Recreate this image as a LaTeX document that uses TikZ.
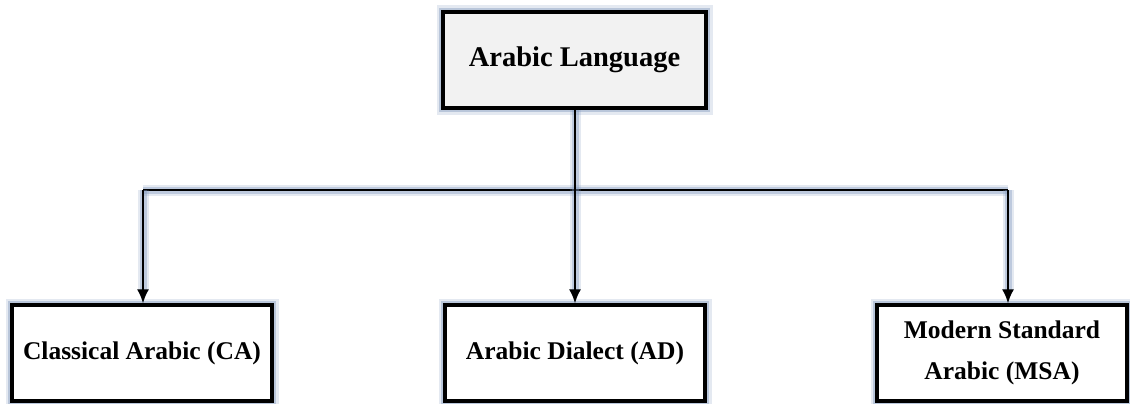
\documentclass[tikz,border=0pt]{standalone}
\usepackage{fontspec}
\setmainfont{Liberation Serif}
\usetikzlibrary{arrows.meta}
\definecolor{glowc}{RGB}{120,145,185}
\definecolor{topfill}{RGB}{242,242,242}
\tikzset{
  boxnode/.style={draw=black, line width=3.2pt, rectangle, inner sep=0pt,
    preaction={draw=glowc, line width=13pt, opacity=0.2},
    preaction={draw=glowc, line width=8pt, opacity=0.4},
    font=\bfseries\fontsize{25.5}{41}\selectfont, align=center},
  link/.style={line width=2.4pt, draw=black,
    preaction={draw=glowc, line width=11pt, opacity=0.2},
    preaction={draw=glowc, line width=7pt, opacity=0.35}},
  tip/.style={-{Latex[length=14pt,width=12pt]}}
}
\begin{document}
\begin{tikzpicture}[x=1pt,y=-1pt]
\useasboundingbox (0,0) rectangle (1130,404);
\node[boxnode, fill=topfill, minimum width=263pt, minimum height=96pt,
  font=\bfseries\fontsize{28.5}{34}\selectfont] (top) at (574.5,60) {\raisebox{-2pt}{Arabic Language}};
\node[boxnode, fill=white, minimum width=260pt, minimum height=96pt] (ca) at (142,353) {\raisebox{-2pt}{Classical Arabic (CA)}};
\node[boxnode, fill=white, minimum width=260pt, minimum height=96pt] (ad) at (575,353) {\raisebox{-2pt}{Arabic Dialect (AD)}};
\node[boxnode, fill=white, minimum width=250pt, minimum height=96pt] (msa) at (1002,353) {Modern Standard\\Arabic (MSA)};
\coordinate (jl) at (143,190);
\coordinate (jr) at (1008,190);
\coordinate (jc) at (575,190);
\draw[link] (jl) -- (jr);
\draw[link, tip] (top.south -| jc) -- (ad.north -| jc);
\draw[link, tip] (jl) -- (jl |- ca.north);
\draw[link, tip] (jr) -- (jr |- msa.north);
\end{tikzpicture}
\end{document}
